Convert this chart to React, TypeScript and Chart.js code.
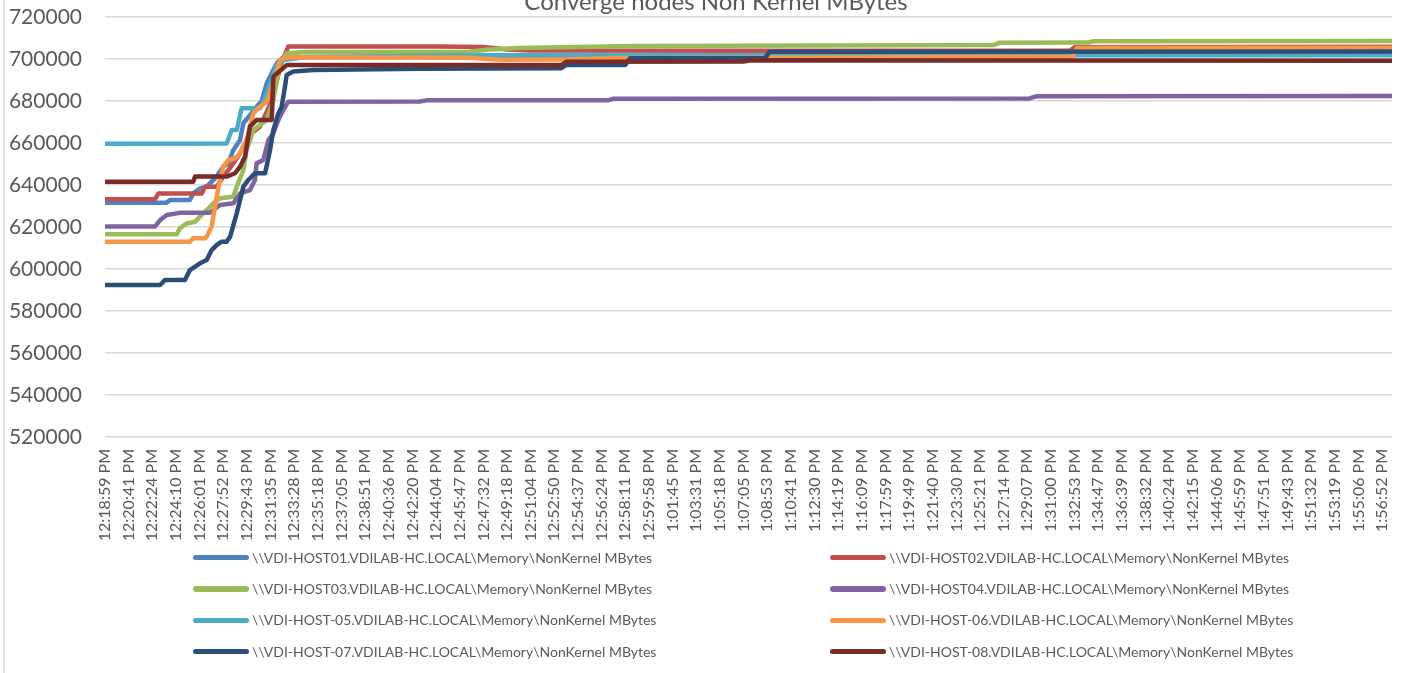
import React, { useEffect, useRef } from 'react';
import { Chart, registerables } from 'chart.js';

Chart.register(...registerables);

const TITLE = 'Converge nodes Non Kernel MBytes';

const timeLabels: string[] = [
  '12:18:59 PM', '12:20:41 PM', '12:22:24 PM', '12:24:10 PM', '12:26:01 PM', '12:27:52 PM',
  '12:29:43 PM', '12:31:35 PM', '12:33:28 PM', '12:35:18 PM', '12:37:05 PM', '12:38:51 PM',
  '12:40:36 PM', '12:42:20 PM', '12:44:04 PM', '12:45:47 PM', '12:47:32 PM', '12:49:18 PM',
  '12:51:04 PM', '12:52:50 PM', '12:54:37 PM', '12:56:24 PM', '12:58:11 PM', '12:59:58 PM',
  '1:01:45 PM', '1:03:31 PM', '1:05:18 PM', '1:07:05 PM', '1:08:53 PM', '1:10:41 PM',
  '1:12:30 PM', '1:14:19 PM', '1:16:09 PM', '1:17:59 PM', '1:19:49 PM', '1:21:40 PM',
  '1:23:30 PM', '1:25:21 PM', '1:27:14 PM', '1:29:07 PM', '1:31:00 PM', '1:32:53 PM',
  '1:34:47 PM', '1:36:39 PM', '1:38:32 PM', '1:40:24 PM', '1:42:15 PM', '1:44:06 PM',
  '1:45:59 PM', '1:47:51 PM', '1:49:43 PM', '1:51:32 PM', '1:53:19 PM', '1:55:06 PM',
  '1:56:52 PM',
];

// x = position in label intervals (0 = 12:18:59 PM), y = NonKernel MBytes
const host01: [number, number][] = [
  [0, 631600], [2.6, 631600], [2.75, 632900], [3.59, 632900], [3.73, 636000], [4.02, 638400],
  [4.3, 639200], [4.72, 644000], [5.0, 648700], [5.21, 650300], [5.43, 656700], [5.71, 661400],
  [5.85, 669400], [6.13, 673300], [6.41, 677300], [6.62, 679700], [6.84, 688400], [7.05, 693200],
  [7.26, 697900], [7.54, 700900], [16, 701000], [22, 701500], [28, 702300], [40, 702600], [54.42, 703000],
];
const host02: [number, number][] = [
  [0, 633200], [2.11, 633200], [2.26, 636000], [4.09, 636000], [4.23, 639200], [4.72, 639200],
  [5.0, 644000], [5.43, 650300], [5.71, 655100], [5.99, 661400], [6.27, 665400], [6.55, 667800],
  [6.84, 674900], [7.12, 682100], [7.4, 696300], [7.75, 705900], [14, 706000], [16, 705700],
  [17, 704500], [18, 704000], [28, 703900], [40.8, 704000], [41, 705600], [54.42, 705800],
];
const host03: [number, number][] = [
  [0, 616500], [3.03, 616500], [3.17, 619400], [3.45, 621700], [3.81, 622500], [4.02, 625000],
  [4.3, 628100], [4.58, 631300], [4.86, 633700], [5.43, 634400], [5.57, 639200], [5.85, 647100],
  [5.99, 656700], [6.27, 666200], [6.55, 668600], [6.84, 671000], [7.12, 680500], [7.4, 697900],
  [7.68, 702700], [8.5, 703300], [15.4, 703500], [16.2, 704500], [17.5, 705200], [22.3, 706200],
  [37.6, 706700], [37.8, 707700], [41.6, 707800], [41.8, 708500], [54.42, 708600],
];
const host04: [number, number][] = [
  [0, 620200], [2.11, 620200], [2.33, 623300], [2.61, 625700], [3.03, 626500], [3.17, 626800],
  [4.44, 626800], [4.86, 630500], [5.43, 631300], [5.71, 636000], [6.13, 637600], [6.34, 642400],
  [6.41, 650300], [6.69, 651900], [6.91, 661400], [7.12, 664600], [7.33, 671000], [7.54, 675700],
  [7.75, 679700], [13.3, 679800], [13.6, 680300], [21.3, 680400], [21.5, 681100], [39.1, 681200],
  [39.4, 682300], [54.42, 682400],
];
const host05: [number, number][] = [
  [0, 659600], [5.14, 659800], [5.36, 666200], [5.57, 666200], [5.78, 676500], [6.55, 676500],
  [6.69, 679300], [6.98, 688000], [7.26, 697100], [7.54, 699500], [8.5, 701000], [16, 701800],
  [40, 701800], [54.42, 701800],
];
const host06: [number, number][] = [
  [0, 613000], [3.59, 613000], [3.73, 614600], [4.23, 614600], [4.3, 615400], [4.51, 620200],
  [4.65, 629700], [4.86, 642400], [5.0, 648700], [5.21, 651900], [5.5, 652700], [5.71, 655100],
  [5.99, 661400], [6.13, 667800], [6.27, 674100], [6.55, 677300], [6.84, 679700], [7.12, 688400],
  [7.4, 699500], [7.68, 700800], [15.4, 700600], [16.7, 699600], [19.4, 699800], [22, 700500],
  [40.9, 701100], [41.1, 705200], [54.42, 705400],
];
const host07: [number, number][] = [
  [0, 592400], [2.33, 592400], [2.54, 594800], [3.38, 594800], [3.59, 599500], [3.81, 601100],
  [4.02, 602700], [4.3, 604300], [4.51, 609000], [4.72, 611400], [4.93, 613000], [5.14, 613000],
  [5.29, 615400], [5.57, 626500], [5.85, 639200], [6.06, 642400], [6.34, 645600], [6.77, 645600],
  [6.98, 656700], [7.12, 666200], [7.33, 674100], [7.47, 677300], [7.61, 686800], [7.68, 692400],
  [7.96, 694000], [8.81, 694800], [13.3, 695400], [19.3, 695600], [19.5, 697100], [22.0, 697200],
  [22.2, 700300], [27.9, 700400], [28.1, 703400], [54.42, 703600],
];
const host08: [number, number][] = [
  [0, 641600], [3.73, 641600], [3.81, 644000], [5.14, 644000], [5.5, 645600], [5.71, 648700],
  [5.92, 653500], [6.13, 667800], [6.41, 671000], [7.05, 671000], [7.12, 691600], [7.68, 697100],
  [19.3, 697100], [19.5, 698700], [27.0, 698800], [27.3, 699400], [54.42, 699200],
];

const seriesNames: string[] = [
  '\\\\VDI-HOST01.VDILAB-HC.LOCAL\\Memory\\NonKernel MBytes',
  '\\\\VDI-HOST02.VDILAB-HC.LOCAL\\Memory\\NonKernel MBytes',
  '\\\\VDI-HOST03.VDILAB-HC.LOCAL\\Memory\\NonKernel MBytes',
  '\\\\VDI-HOST04.VDILAB-HC.LOCAL\\Memory\\NonKernel MBytes',
  '\\\\VDI-HOST-05.VDILAB-HC.LOCAL\\Memory\\NonKernel MBytes',
  '\\\\VDI-HOST-06.VDILAB-HC.LOCAL\\Memory\\NonKernel MBytes',
  '\\\\VDI-HOST-07.VDILAB-HC.LOCAL\\Memory\\NonKernel MBytes',
  '\\\\VDI-HOST-08.VDILAB-HC.LOCAL\\Memory\\NonKernel MBytes',
];
const seriesColors: string[] = [
  '#4F81BD', '#C0504D', '#9BBB59', '#8064A2', '#4BACC6', '#F79646', '#2C4D75', '#772C2A',
];
const seriesData = [host01, host02, host03, host04, host05, host06, host07, host08];

const TEXT = '#595959';
const FONT = 'Lato, "Open Sans", sans-serif';

const titlePlugin = {
  id: 'cutTitle',
  afterDraw(chart: any) {
    const ctx = chart.ctx;
    ctx.save();
    ctx.font = `24px ${FONT}`;
    ctx.fillStyle = TEXT;
    ctx.textAlign = 'center';
    ctx.textBaseline = 'alphabetic';
    ctx.fillText(TITLE, 716, 10);
    ctx.restore();
  },
};

const legendCols = [{ line: 193, text: 252 }, { line: 830, text: 889 }];
const legendRows = [557.5, 589, 620.3, 651.5];

export default function App() {
  const ref = useRef<HTMLCanvasElement>(null);

  useEffect(() => {
    const lastX = Math.max(...seriesData.map((s) => s[s.length - 1][0]));
    const chart = new Chart(ref.current as HTMLCanvasElement, {
      type: 'line',
      data: {
        datasets: seriesData.map((pts, i) => ({
          label: seriesNames[i],
          data: pts.map(([x, y]) => ({ x, y })),
          borderColor: seriesColors[i],
          backgroundColor: seriesColors[i],
          borderWidth: 4.5,
          pointRadius: 0,
          tension: 0,
          fill: false,
          borderJoinStyle: 'round',
          borderCapStyle: 'round',
          order: -i,
        })),
      },
      options: {
        responsive: false,
        animation: false,
        layout: { padding: { left: 0, right: 13, top: 17, bottom: 0 } },
        plugins: {
          legend: { display: false },
          title: { display: false },
          tooltip: { enabled: false },
        },
        scales: {
          x: {
            type: 'linear',
            min: 0,
            max: lastX,
            grid: { display: false, drawTicks: false },
            border: { display: false },
            ticks: {
              stepSize: 1,
              autoSkip: false,
              includeBounds: false,
              minRotation: 90,
              maxRotation: 90,
              padding: 12,
              color: TEXT,
              font: { family: FONT, size: 16 },
              callback: (v: any) => (Number.isInteger(v) ? timeLabels[v] ?? '' : ''),
            },
            afterFit: (s: any) => {
              s.height = 108;
              s.paddingLeft = 0;
              s.paddingRight = 0;
              s.paddingTop = 0;
              s.paddingBottom = 0;
            },
          },
          y: {
            min: 520000,
            max: 720000,
            grid: { color: '#d9d9d9', lineWidth: 1.5, drawTicks: false },
            border: { display: false },
            ticks: {
              stepSize: 20000,
              padding: 23,
              color: TEXT,
              font: { family: FONT, size: 21 },
              callback: (v: any) => String(v),
            },
            afterFit: (s: any) => {
              s.width = 105;
              s.paddingLeft = 0;
              s.paddingRight = 0;
              s.paddingTop = 0;
              s.paddingBottom = 0;
            },
          },
        },
      } as any,
      plugins: [titlePlugin],
    });
    return () => chart.destroy();
  }, []);

  return (
    <div
      style={{
        position: 'absolute',
        left: 0,
        top: 0,
        width: 1405,
        height: 673,
        background: '#ffffff',
        overflow: 'hidden',
      }}
    >
      <canvas ref={ref} width={1405} height={545} style={{ position: 'absolute', left: 0, top: 0 }} />
      <div style={{ position: 'absolute', left: 3, top: 0, width: 2, height: 673, background: '#e0e0e0' }} />
      {seriesNames.map((name, i) => {
        const col = legendCols[i % 2];
        const cy = legendRows[Math.floor(i / 2)];
        return (
          <div key={name} style={{ position: 'absolute', left: 0, top: cy - 10, height: 20, width: 1405 }}>
            <div
              style={{
                position: 'absolute',
                left: col.line,
                top: 7.25,
                width: 56,
                height: 5.5,
                borderRadius: 3,
                background: seriesColors[i],
              }}
            />
            <span
              style={{
                position: 'absolute',
                left: col.text,
                top: 0,
                lineHeight: '20px',
                fontFamily: FONT,
                fontSize: 14,
                color: TEXT,
                whiteSpace: 'nowrap',
              }}
            >
              {name}
            </span>
          </div>
        );
      })}
    </div>
  );
}
